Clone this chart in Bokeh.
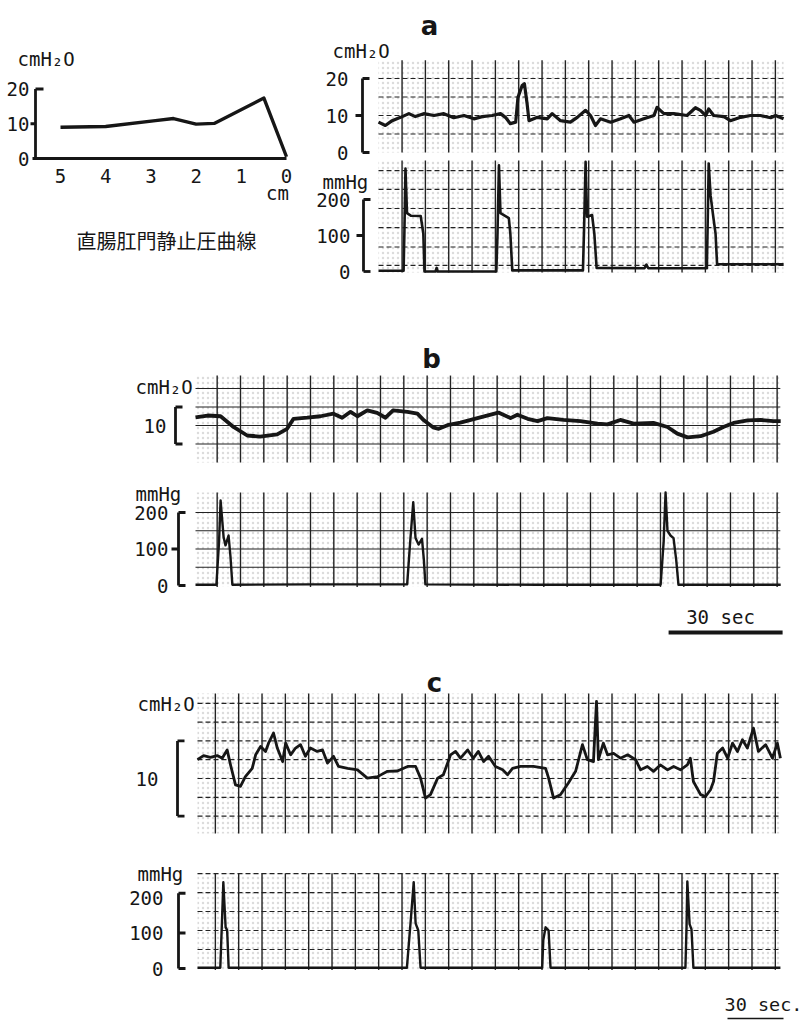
from bokeh.plotting import figure
from bokeh.models import Range1d
from bokeh.core.properties import value
from bokeh.embed import file_html
from bokeh.resources import INLINE

# ---------------- data ----------------
# resting anorectal pressure profile
cm_position = [5.0, 4.0, 2.9, 2.5, 2.0, 1.6, 0.5, 0.0]
cm_pressure = [9.0, 9.2, 10.9, 11.5, 9.9, 10.1, 17.4, 0.5]
cm_ticks = [5, 4, 3, 2, 1, 0]
cmh2o_ticks_left = [0, 10, 20]

# panel a (seconds, cmH2O / mmHg)
a_top_t = [0.0, 1.8, 3.6, 5.8, 8.0, 9.7, 11.9, 14.6, 17.2, 19.8, 22.5, 25.1, 27.3, 29.9, 32.1,
           33.4, 34.7, 36.1, 36.7, 37.8, 38.4, 39.1, 39.6, 41.8, 44.4, 45.7, 47.9, 50.5, 52.3,
           54.5, 55.8, 57.1, 58.4, 61.1, 63.7, 65.9, 67.2, 69.8, 72.5, 73.3, 75.1, 77.7, 81.2,
           83.4, 84.7, 86.1, 86.9, 88.2, 90.9, 92.6, 95.3, 97.9, 100.5, 103.2, 104.5, 106.6]
a_top_v = [8.2, 7.3, 8.6, 9.5, 10.5, 9.7, 10.5, 10.0, 10.5, 9.4, 10.0, 9.1, 9.7, 10.0, 10.5,
           9.5, 7.8, 8.2, 14.9, 18.1, 18.6, 13.2, 8.6, 9.5, 9.1, 10.5, 8.6, 8.2, 9.5,
           11.4, 10.0, 7.3, 9.1, 8.2, 9.1, 10.0, 8.2, 9.1, 10.0, 12.2, 10.5, 10.5, 10.0,
           12.1, 11.4, 10.0, 11.8, 10.0, 9.7, 8.6, 9.5, 10.0, 10.0, 9.4, 10.0, 9.1]
a_bot_t = [0, 6.6, 6.8, 7.1, 7.5, 8.5, 11.1, 11.8, 12.1, 15, 15.3, 15.6, 20, 31.0, 31.3, 31.7,
           32.1, 34.3, 34.7, 35.2, 45, 53.8, 54.1, 54.5, 54.9, 56.2, 56.8, 57.4, 70, 70.5, 71,
           86.4, 86.6, 86.9, 87.4, 88.1, 88.7, 89.1, 95, 106.6]
a_bot_v = [2, 2, 100, 286, 162, 155, 154, 105, 0, 0, 10, 0, 0, 0, 100, 295,
           162, 148, 105, 3, 3, 3, 120, 305, 152, 157, 105, 10, 9, 19, 9,
           9, 120, 300, 210, 152, 105, 20, 20, 20]

# panel b
b_top_t = [0, 3.2, 6.6, 10.0, 13.6, 17.0, 21.5, 24.1, 25.8, 29.4, 32.9, 36.3, 38.6, 40.8, 42.6,
           45.2, 47.8, 50.0, 52.0, 55.8, 58.4, 60.1, 62.5, 64.0, 66.3, 69.7, 74.2, 79.7, 82.9,
           84.7, 87.4, 90.0, 92.6, 96.8, 101.3, 105.8, 108.4, 111.8, 115.3, 120.5, 124.2, 126.8,
           129.5, 132.9, 136.3, 138.9, 141.6, 145.3, 148.7, 152.1, 154.0]
b_top_v = [12.2, 12.7, 12.5, 9.6, 7.3, 7.0, 7.6, 9.1, 11.8, 12.1, 12.5, 13.2, 12.1, 13.7, 12.5,
           14.1, 13.4, 12.1, 14.1, 13.7, 13.2, 11.4, 9.5, 9.1, 10.1, 10.8, 12.0, 13.5, 12.0,
           12.9, 11.8, 11.2, 12.0, 11.5, 11.2, 10.5, 10.3, 11.5, 10.5, 10.7, 9.6, 7.8,
           6.8, 7.1, 8.3, 9.6, 10.7, 11.4, 11.5, 11.2, 11.2]
b_bot_t = [0, 5.5, 6.2, 6.6, 7.4, 7.9, 8.7, 9.2, 9.7, 30, 55.7, 56.5, 57.3, 57.9, 58.7, 59.6,
           60.1, 60.5, 90, 122.4, 123.2, 123.7, 124.2, 125.0, 125.8, 126.5, 127.1, 154]
b_bot_v = [2, 2, 120, 233, 132, 110, 137, 80, 2, 3, 3, 120, 228, 130, 112, 128,
           70, 3, 2, 2, 120, 255, 150, 137, 130, 70, 2, 2]

# panel c
c_top_t = [0.0, 1.6, 3.4, 5.2, 6.5, 7.8, 8.7, 10.0, 11.3, 12.6,
           14.4, 15.3, 16.6, 17.9, 18.7, 20.0, 21.0, 22.4, 23.2, 24.5,
           25.8, 27.1, 28.4, 29.7, 31.5, 32.9, 34.2, 35.8, 37.1, 39.5,
           42.1, 44.7, 47.4, 50.0, 52.6, 55.3, 57.4, 58.7, 60.0, 61.3,
           63.2, 64.7, 66.6, 67.9, 69.2, 71.1, 72.6, 73.9, 75.3, 76.6,
           78.4, 80.3, 81.6, 82.9, 85.0, 88.4, 91.6, 92.4, 93.7, 95.5,
           97.6, 99.5, 101.3, 102.6, 104.2, 105.0, 105.5, 106.8, 107.9, 109.5,
           111.3, 113.2, 115.3, 116.6, 118.4, 120.0, 121.8, 123.7, 125.3, 127.1,
           128.9, 129.7, 130.5, 132.4, 133.7, 135.0, 135.8, 136.8, 138.2, 139.5,
           140.8, 142.1, 143.4, 144.7, 146.3, 147.6, 149.5, 151.3, 152.6, 153.4]
c_top_v = [15.0, 16.1, 15.6, 16.1, 15.4, 17.6, 13.6, 8.3, 7.9, 10.5,
           12.7, 16.3, 18.5, 17.2, 19.4, 22.1, 18.1, 14.5, 19.4, 16.3,
           18.1, 19.0, 15.9, 18.1, 17.2, 17.6, 14.1, 15.9, 13.2, 12.7,
           12.3, 10.1, 10.5, 11.9, 12.0, 13.2, 13.2, 10.1, 4.8, 5.7,
           10.1, 11.0, 16.3, 17.2, 15.4, 17.6, 15.4, 17.2, 14.5, 15.9,
           13.2, 12.3, 11.0, 12.7, 13.2, 13.2, 12.7, 10.1, 4.8, 5.7,
           8.8, 11.9, 19.0, 15.0, 14.5, 30.5, 15.0, 19.4, 16.3, 16.7,
           15.4, 16.3, 15.0, 12.3, 13.2, 11.9, 13.6, 12.3, 13.2, 12.3,
           13.6, 15.4, 9.2, 5.7, 5.2, 7.0, 9.2, 16.7, 18.1, 15.4,
           19.4, 17.2, 20.3, 18.1, 23.4, 17.2, 19.0, 15.4, 19.4, 15.4]
c_bot_t = [0, 6.0, 6.4, 6.8, 7.4, 7.8, 8.2, 30, 55.1, 56.0, 56.9, 57.4, 58.1, 58.7, 75,
           90.7, 91.0, 91.6, 92.4, 92.9, 110, 128.4, 128.7, 128.9, 129.5, 130.0, 130.5, 153.4]
c_bot_v = [2, 2, 120, 243, 116, 108, 2, 2, 2, 120, 243, 127, 107, 2, 2,
           2, 80, 116, 107, 2, 2, 2, 120, 245, 125, 110, 2, 2]

mmhg_ticks = [0, 100, 200]
caption = "直腸肛門静止圧曲線"
unit_h2o = "cmH₂O"
unit_hg = "mmHg"

# ---------------- layout helpers ----------------
# Bokeh's page template sets the body margin to 0, so the canvas starts at (0, 0)
W, H, OX, OY = 804, 1023, 0, 0
PX_PER_S = 3.8
GRID_STEP_S = 6.14
MONO = value("DejaVu Sans Mono")
BOLD = value("DejaVu Sans")
INK = "#161616"


def xmap(px0, v0, px1, v1):
    s = (px1 - px0) / (v1 - v0)
    start = v0 - (px0 - OX) / s
    return Range1d(start=start, end=start + W / s)


def ymap(py0, v0, py1, v1):
    s = (py0 - py1) / (v1 - v0)
    end = v0 + (py0 - OY) / s
    return Range1d(start=end - H / s, end=end)


p = figure(width=W, height=H, x_range=Range1d(OX, OX + W), y_range=Range1d(OY + H, OY),
           output_backend="svg", toolbar_location=None, min_border=0,
           x_axis_location=None, y_axis_location=None)
p.outline_line_color = None
p.grid.grid_line_color = None
p.background_fill_color = "white"
p.border_fill_color = "white"

p.extra_x_ranges = {
    "cm": xmap(60, 5, 286, 0),
    "ta": xmap(378, 0, 378 + PX_PER_S * 100, 100),
    "tb": xmap(195, 0, 195 + PX_PER_S * 100, 100),
    "tc": xmap(197, 0, 197 + PX_PER_S * 100, 100),
}
p.extra_y_ranges = {
    "cmv": ymap(158, 0, 88.5, 20),
    "a1": ymap(152, 0, 78, 20),
    "a2": ymap(271, 0, 199, 200),
    "b1": ymap(425, 10, 388, 20),
    "b2": ymap(585, 0, 512, 200),
    "c1": ymap(778, 10, 740.4, 20),
    "c2": ymap(968, 0, 897, 200),
}


def text(x, y, s, xr="default", yr="default", size="19px", align="left", font=MONO,
         style="normal", baseline="middle"):
    p.text(x=[x], y=[y], text=[s], x_range_name=xr, y_range_name=yr, text_font=font,
           text_font_size=size, text_align=align, text_baseline=baseline,
           text_color=INK, text_font_style=style)


def paper_grid(xr, yr, t1, v0, v1, first, hlines, hdash):
    vx = []
    t = first
    while t <= t1 - 0.8:
        vx.append(t)
        t += GRID_STEP_S
    p.quad(left=[0], right=[t1], bottom=[v0], top=[v1], x_range_name=xr, y_range_name=yr,
           fill_color=None, line_color=None, hatch_pattern="dot", hatch_color="#8a8a8a",
           hatch_scale=5, hatch_alpha=0.3, hatch_weight=1.2)
    p.segment(x0=vx, y0=[v0] * len(vx), x1=vx, y1=[v1] * len(vx), x_range_name=xr,
              y_range_name=yr, line_color="#222222", line_width=1.4)
    p.segment(x0=[0] * len(hlines), y0=hlines, x1=[t1] * len(hlines), y1=hlines,
              x_range_name=xr, y_range_name=yr, line_color="#222222", line_width=1.2,
              line_dash=hdash)


def bracket(xpx, yr, lo, hi, mids, mid_dir=-1, tick=7, lw=2.8):
    p.segment(x0=[xpx, xpx, xpx], y0=[lo, lo, hi], x1=[xpx, xpx + tick, xpx + tick],
              y1=[hi, lo, hi], y_range_name=yr, line_color=INK, line_width=lw)
    if mids:
        p.segment(x0=[xpx] * len(mids), y0=mids, x1=[xpx + mid_dir * tick] * len(mids),
                  y1=mids, y_range_name=yr, line_color=INK, line_width=lw)


# ---------------- panel a, left: resting pressure profile ----------------
p.segment(x0=[35, 32], y0=[0, 0], x1=[35, 286], y1=[20, 0], y_range_name="cmv",
          line_color=INK, line_width=2.8)
p.segment(x0=[35, 35], y0=[20, 10], x1=[43, 30], y1=[20, 10], y_range_name="cmv",
          line_color=INK, line_width=2.8)
p.line(cm_position, cm_pressure, x_range_name="cm", y_range_name="cmv",
       line_color=INK, line_width=3.4, line_join="round")
for v in cmh2o_ticks_left:
    text(29, v, str(v), yr="cmv", align="right")
for c in cm_ticks:
    text(c, 175, str(c), xr="cm", align="center")
text(17, 58, unit_h2o)
text(277, 192, "cm", align="center")
text(166, 240, caption, align="center", size="20px", font=value("Noto Sans CJK JP"))

# ---------------- panel a, right ----------------
text(429, 25, "a", align="center", size="26px", font=BOLD, style="bold", baseline="alphabetic")
paper_grid("ta", "a1", 106.6, 0, 24.9, 6.2, [5, 10, 15, 20], "5 3")
paper_grid("ta", "a2", 106.6, -3, 308, 6.2, [17, 68, 122, 175, 228, 280], "5 3")
p.line(a_top_t, a_top_v, x_range_name="ta", y_range_name="a1", line_color=INK,
       line_width=3.2, line_join="round")
p.line(a_bot_t, a_bot_v, x_range_name="ta", y_range_name="a2", line_color=INK,
       line_width=2.6, line_join="round")
bracket(362, "a1", 0, 20, [10])
bracket(363, "a2", 0, 200, [100])
text(332, 50, unit_h2o)
for v in cmh2o_ticks_left:
    text(348, v, str(v), yr="a1", align="right")
text(322, 181, unit_hg)
for v in mmhg_ticks:
    text(350, v, str(v), yr="a2", align="right")

# ---------------- panel b ----------------
text(431, 358, "b", align="center", size="26px", font=BOLD, style="bold", baseline="alphabetic")
paper_grid("tb", "b1", 153.9, 0, 23.5, 5.7, [5, 10, 15, 20], "solid")
paper_grid("tb", "b2", 153.9, -4, 255, 5.7, [50, 100, 150, 200], "solid")
p.line(b_top_t, b_top_v, x_range_name="tb", y_range_name="b1", line_color=INK,
       line_width=3.8, line_join="round")
p.line(b_bot_t, b_bot_v, x_range_name="tb", y_range_name="b2", line_color=INK,
       line_width=2.4, line_join="round")
bracket(175, "b1", 5, 15, [])
bracket(178, "b2", 0, 200, [100])
text(135, 386, unit_h2o)
text(166, 10, "10", yr="b1", align="right")
text(135, 493, unit_hg)
for v in mmhg_ticks:
    text(168, v, str(v), yr="b2", align="right")
# 30 s scale bar
p.line([124.5, 124.5 + 30], [632, 632], x_range_name="tb", line_color=INK, line_width=4)
text(720, 616, "30 sec", align="center")

# ---------------- panel c ----------------
text(434, 682, "c", align="center", size="26px", font=BOLD, style="bold", baseline="alphabetic")
paper_grid("tc", "c1", 153.4, -4.6, 32.6, 4.7, [0, 5, 10, 15, 20, 25, 30], "5 3")
paper_grid("tc", "c2", 153.4, -4, 268, 4.7, [53.5, 107, 160.5, 214, 267.5], "5 3")
p.line(c_top_t, c_top_v, x_range_name="tc", y_range_name="c1", line_color=INK,
       line_width=2.8, line_join="round")
p.line(c_bot_t, c_bot_v, x_range_name="tc", y_range_name="c2", line_color=INK,
       line_width=2.4, line_join="round")
bracket(177, "c1", 0, 20, [])
bracket(178, "c2", 0, 212, [100], mid_dir=1)
text(137, 703, unit_h2o)
text(158, 10, "10", yr="c1", align="right")
text(137, 873, unit_hg)
for v in mmhg_ticks:
    text(163, v, str(v), yr="c2", align="right")
text(802, 1004, "30 sec.", align="right", size="18.5px")
p.line([727, 783], [1018, 1018], line_color=INK, line_width=1.6)

open("out.html", "w").write(file_html(p, INLINE))
